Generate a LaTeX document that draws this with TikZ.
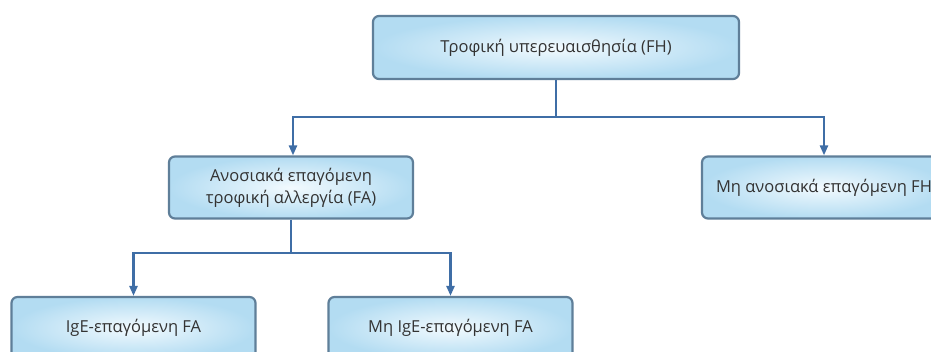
\documentclass[tikz,border=0pt]{standalone}
\usepackage{fontspec}
\setmainfont{Open Sans}
\usetikzlibrary{arrows.meta}
\definecolor{boxline}{HTML}{5F7F99}
\definecolor{boxin}{HTML}{F2FAFE}
\definecolor{boxout}{HTML}{B3DCF2}
\definecolor{conn}{HTML}{3F6EA6}
\begin{document}
\begin{tikzpicture}[x=1pt,y=-1pt,
  box/.style={draw=boxline, line width=2.2pt, rounded corners=6pt,
    inner color=boxin, outer color=boxout, minimum width=244pt, minimum height=62pt,
    align=center, font=\fontsize{16.5}{22}\selectfont, text=black!80},
  conn/.style={draw=conn, line width=2.4pt},
  arr/.style={conn, -{Triangle[length=10pt,width=8pt]}}]
\useasboundingbox (0,0) rectangle (931,352);
\clip (0,0) rectangle (931,352);
\fill[white] (0,0) rectangle (931,352);
\node[box, minimum width=366pt, minimum height=63pt] (top) at (556,47.5) {Τροφική υπερευαισθησία (FH)};
\node[box] (mid) at (291,187.5) {Ανοσιακά επαγόμενη\\τροφική αλλεργία (FA)};
\node[box] (right) at (824,187.5) {Μη ανοσιακά επαγόμενη FH};
\node[box] (bl) at (133.5,328) {IgE-επαγόμενη FA};
\node[box] (br) at (450.5,328) {Μη IgE-επαγόμενη FA};
\coordinate (j1) at (556,117);
\coordinate (j2) at (291,253);
\draw[conn] (top.south) -- (j1);
\draw[arr] (j1) -| ([xshift=2pt]mid.north);
\draw[arr] (j1) -| (right.north);
\draw[conn] (mid.south) -- (j2);
\draw[arr] (j2) -| (bl.north);
\draw[arr] (j2) -| (br.north);
\end{tikzpicture}
\end{document}
